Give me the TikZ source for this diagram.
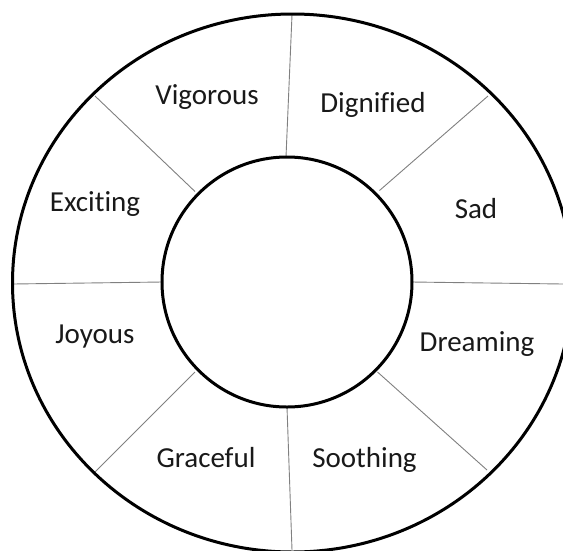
\documentclass[tikz,border=0pt]{standalone}
\usepackage{fontspec}
\setmainfont{Carlito}[Ligatures={NoCommon}]
\begin{document}
\begin{tikzpicture}[x=1pt,y=-1pt,
  ring/.style={line width=3pt, draw=black},
  divider/.style={line width=0.9pt, draw=black!50},
  lbl/.style={font=\fontsize{29}{31}\selectfont, anchor=base, inner sep=0pt, text=black!90}]
\clip (0,0) rectangle (563,550);
\fill[white] (0,0) rectangle (563,550);
% divider end points
\coordinate (oT) at (292,15);   \coordinate (iT) at (286,157);
\coordinate (oB) at (292,550);  \coordinate (iB) at (287,407);
\coordinate (oL) at (13,284);   \coordinate (iL) at (162,282);
\coordinate (oR) at (563,284);  \coordinate (iR) at (412,282);
\coordinate (oTL) at (95,96);   \coordinate (iTL) at (195,191.5);
\coordinate (oTR) at (488,96);  \coordinate (iTR) at (379.5,190.5);
\coordinate (oBL) at (95,472);  \coordinate (iBL) at (195,372);
\coordinate (oBR) at (487,470); \coordinate (iBR) at (377.5,372);
\foreach \p in {T,B,L,R,TL,TR,BL,BR}{\draw[divider] (o\p) -- (i\p);}
% rings
\draw[ring] (292.5,283) ellipse [x radius=280, y radius=269];
\draw[ring] (287,282) circle [radius=125];
% labels
\node[lbl] (vig) at (207,104) {Vigorous};
\node[lbl] (dig) at (373,112.5) {Dignified};
\node[lbl] (exc) at (95,211) {Exciting};
\node[lbl] (sad) at (476,218.5) {Sad};
\node[lbl] (joy) at (95,343.5) {Joyous};
\node[lbl] (dre) at (477,351.5) {Dreaming};
\node[lbl] (gra) at (206,467) {Graceful};
\node[lbl] (soo) at (364.5,467.5) {Soothing};
\end{tikzpicture}
\end{document}
